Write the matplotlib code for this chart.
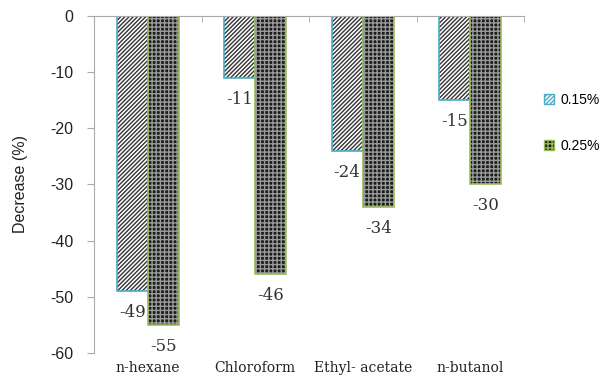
import numpy as np
import matplotlib.pyplot as plt
from matplotlib.patches import Patch

# solvent fractions and decrease values
solvents = ["n-hexane", "Chloroform", "Ethyl- acetate", "n-butanol"]
dec_015 = [-49, -11, -24, -15]
dec_025 = [-55, -46, -34, -30]
series_names = ["0.15%", "0.25%"]

plt.rcParams['hatch.linewidth'] = 1.0
plt.rcParams['axes.unicode_minus'] = False

fig = plt.figure(figsize=(6.01, 3.79), dpi=100)
ax = fig.add_axes([0.1564, 0.0686, 0.7155, 0.8892])

x = np.arange(len(solvents))
w = 0.29

# 0.15% -- white with dark diagonal stripes, blue outline
ax.bar(x - w / 2, dec_015, w, color="white", hatch="////////", edgecolor="#333333", linewidth=0)
ax.bar(x - w / 2, dec_015, w, fill=False, edgecolor="#4BACC6", linewidth=1.2)
# 0.25% -- dark checker texture, green outline
ax.bar(x + w / 2, dec_025, w, color="#1c1c1c", hatch="++++", edgecolor="#9a9a9a", linewidth=0)
ax.bar(x + w / 2, dec_025, w, fill=False, edgecolor="#9BBB59", linewidth=1.2)

# value labels under bar ends
for xi, v in zip(x - w / 2, dec_015):
    ax.text(xi, v - 2.3, str(v), ha="center", va="top", fontsize=12,
            family="DejaVu Serif", color="#333333")
for xi, v in zip(x + w / 2, dec_025):
    ax.text(xi, v - 2.3, str(v), ha="center", va="top", fontsize=12,
            family="DejaVu Serif", color="#333333")

ax.set_xlim(-0.5, 3.5)
ax.set_ylim(-60, 0)
ax.set_yticks(np.arange(-60, 1, 10))
ax.tick_params(axis="y", labelsize=11.5, length=5, color="#aaaaaa", labelcolor="#222222",
               pad=10)
for lab in ax.get_yticklabels():
    lab.set_family("Liberation Sans")

ax.set_xticks(x)
ax.set_xticklabels(solvents, family="DejaVu Serif", fontsize=10, color="#222222")
ax.tick_params(axis="x", which="major", length=0, pad=6)
ax.set_xticks(np.arange(0.5, 4, 1), minor=True)
ax.tick_params(axis="x", which="minor", bottom=False, top=True, direction="in",
               length=4, color="#aaaaaa")

ax.spines["right"].set_visible(False)
ax.spines["bottom"].set_visible(False)
ax.spines["top"].set_color("#aaaaaa")
ax.spines["left"].set_color("#aaaaaa")

ax.set_ylabel("Decrease (%)", fontsize=11.5, family="Liberation Sans", color="#222222",
              labelpad=16)

handles = [
    Patch(facecolor="white", hatch="////////", edgecolor="#4BACC6"),
    Patch(facecolor="#1c1c1c", hatch="++++", edgecolor="#9BBB59"),
]
fig.legend(handles, series_names, loc="center left", bbox_to_anchor=(0.905, 0.675),
           frameon=False, prop={"family": "Liberation Sans", "size": 10},
           borderpad=0, borderaxespad=0,
           handlelength=0.7, handleheight=0.7, handletextpad=0.5, labelspacing=2.3)

fig.savefig("out.png", dpi=100)
